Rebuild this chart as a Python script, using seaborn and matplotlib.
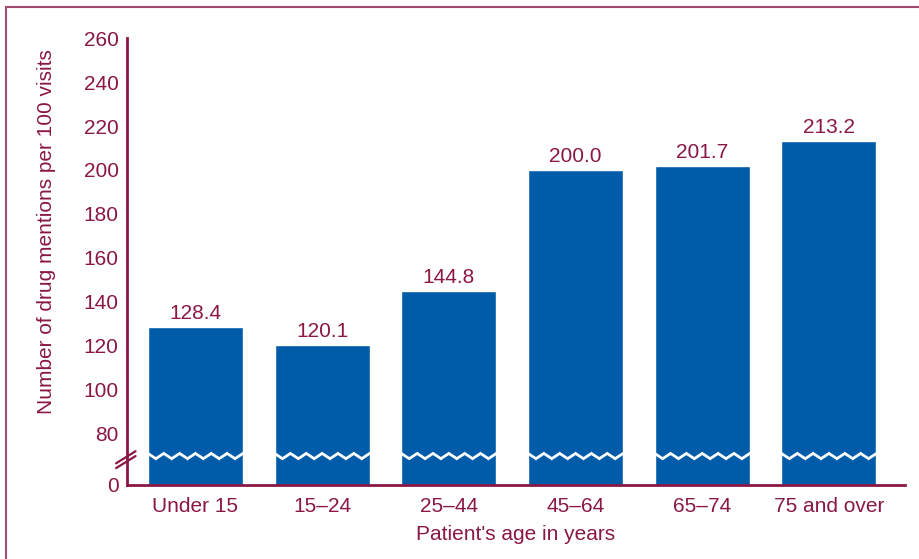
import numpy as np
import pandas as pd
import matplotlib
matplotlib.use('Agg')
import matplotlib.pyplot as plt
from matplotlib.lines import Line2D
import seaborn as sns

age_groups = ['Under 15', '15–24', '25–44', '45–64', '65–74', '75 and over']
mentions = [128.4, 120.1, 144.8, 200.0, 201.7, 213.2]
y_ticks = [80, 100, 120, 140, 160, 180, 200, 220, 240, 260]

maroon = '#8A1744'
border = '#A24A70'
blue = '#005CA9'

sns.set_style('white')
plt.rcParams['font.family'] = ['Liberation Sans', 'DejaVu Sans']

df = pd.DataFrame({'age': age_groups, 'mentions': mentions})

fig = plt.figure(figsize=(9.19, 5.59), dpi=100)
ax = fig.add_axes([127 / 919, 1 - 485 / 559, (905 - 127) / 919, (485 - 38.3) / 559])

sns.barplot(data=df, x='age', y='mentions', color=blue, saturation=1,
            width=0.75, ax=ax, errorbar=None)

# broken axis: bottom of plot stands for 0
y_bottom = 56.3
ax.set_ylim(y_bottom, 260)
ax.set_xlim(-0.54, 5.6)
ax.set_yticks([y_bottom] + y_ticks)
ax.set_yticklabels(['0'] + [str(t) for t in y_ticks])
ax.tick_params(axis='y', direction='in', length=7, width=2, color=maroon,
               labelcolor=maroon, labelsize=15, pad=6)
ax.tick_params(axis='x', length=0, labelcolor=maroon, labelsize=15, pad=9)
ax.yaxis.get_major_ticks()[0].tick1line.set_visible(False)

for side in ['top', 'right']:
    ax.spines[side].set_visible(False)
for side in ['left', 'bottom']:
    ax.spines[side].set_color(maroon)
    ax.spines[side].set_linewidth(2)

ax.set_xlabel('')
ax.set_ylabel('')

# value labels
ax.bar_label(ax.containers[0], fmt='{:.1f}', padding=3, color=maroon, fontsize=15)

# white zigzag break on each bar
y_break = 69.5
for p in ax.patches:
    x0 = p.get_x()
    w = p.get_width()
    xs = np.linspace(x0, x0 + w, 13)
    ys = y_break + np.array([(-1) ** i for i in range(13)]) * 1.2
    ax.plot(xs, ys, color='white', lw=2, solid_joinstyle='miter', zorder=5)

# double slash on the y axis
trans = ax.get_yaxis_transform()
for dy in (0, 2.2):
    ax.plot([-0.014, 0.011], [64.0 + dy, 69.5 + dy], color=maroon, lw=1.6,
            transform=trans, clip_on=False, zorder=6)

fig.text(47 / 919, 1 - 232 / 559, 'Number of drug mentions per 100 visits',
         rotation=90, ha='center', va='center', color=maroon, fontsize=15)
fig.text(516 / 919, 1 - 535 / 559, "Patient's age in years",
         ha='center', va='center', color=maroon, fontsize=15)

# frame around the figure
fig.add_artist(Line2D([6 / 919, 1], [1 - 7 / 559, 1 - 7 / 559], color=border,
                      lw=1.5, transform=fig.transFigure))
fig.add_artist(Line2D([6 / 919, 6 / 919], [0, 1 - 7 / 559], color=border,
                      lw=1.5, transform=fig.transFigure))

fig.savefig('out.png', dpi=100)
